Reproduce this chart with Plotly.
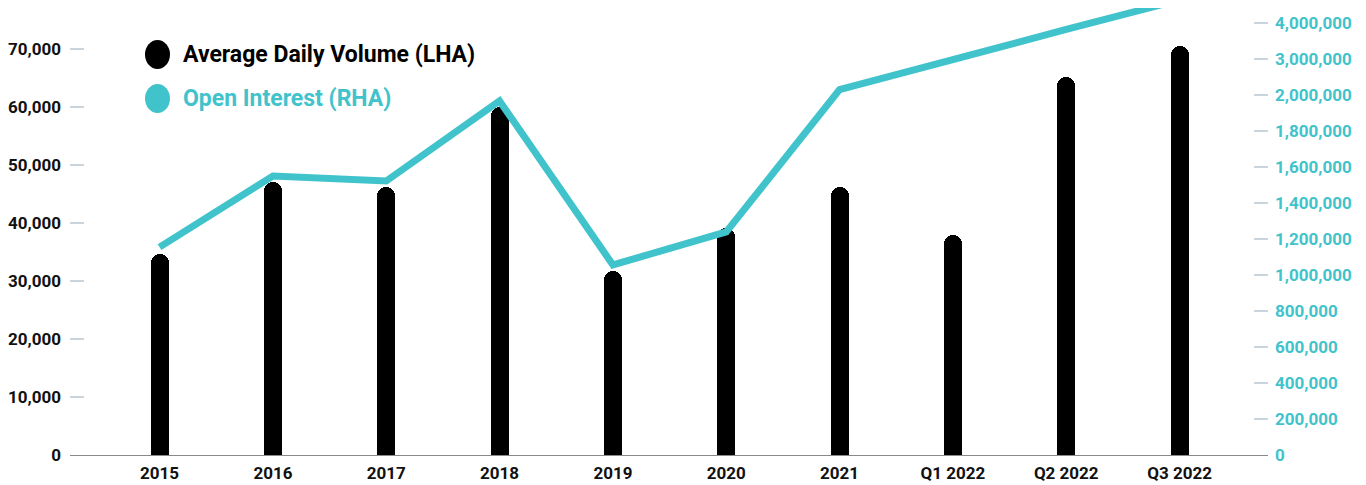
import plotly.graph_objects as go

# ---- data ----
categories = ["2015", "2016", "2017", "2018", "2019", "2020", "2021", "Q1 2022", "Q2 2022", "Q3 2022"]
avg_daily_volume = [34700, 47100, 46200, 60000, 31700, 39100, 46200, 37900, 65200, 70500]
open_interest = [1155000, 1550000, 1522000, 1967000, 1056000, 1239000, 2150000, 3000000, 3820000, 4640000]

left_ticks = [0, 10000, 20000, 30000, 40000, 50000, 60000, 70000]
right_ticks = [0, 200000, 400000, 600000, 800000, 1000000, 1200000, 1400000,
               1600000, 1800000, 2000000, 3000000, 4000000]

BLACK = "#000000"
TEAL = "#41c3cc"
TICKC = "#c9d4dc"
FONT = "Roboto"

# right axis is compressed above 2,000,000 (1,000,000 per step instead of 200,000)
BREAK = 2000000
COMPRESS = 0.2


def oi_pos(v):
    return v if v <= BREAK else BREAK + (v - BREAK) * COMPRESS


W, H = 1366, 485
ML, MR, MT, MB = 62, 106, 0, 38
plot_w = W - ML - MR
plot_h = H - MT - MB
left_max = plot_h / 58.0 * 10000
right_max = plot_h / 36.0 * 200000

fig = go.Figure()

fig.add_trace(go.Bar(
    x=categories, y=avg_daily_volume, name="Average Daily Volume (LHA)",
    marker=dict(color=BLACK, line=dict(width=0), cornerradius=9),
    width=0.159, yaxis="y", showlegend=False,
))

fig.add_trace(go.Scatter(
    x=categories, y=[oi_pos(v) for v in open_interest], name="Open Interest (RHA)",
    mode="lines", line=dict(color=TEAL, width=7), yaxis="y2", showlegend=False,
))

fig.update_layout(
    width=W, height=H,
    margin=dict(l=ML, r=MR, t=MT, b=MB, autoexpand=False),
    plot_bgcolor="white", paper_bgcolor="white",
    font=dict(family=FONT, size=17, color="#111111"),
    xaxis=dict(
        type="category", range=[-0.79, 9.78],
        showgrid=False, zeroline=False,
        showline=True, linecolor="#8a8a8a", linewidth=1.2,
        ticks="", ticklabelstandoff=2,
        tickfont=dict(family=FONT, size=17, color="#111111", weight="bold"),
    ),
    yaxis=dict(
        range=[0, left_max], tickvals=left_ticks,
        ticktext=[f"{v:,}" for v in left_ticks],
        showgrid=False, zeroline=False, showline=False,
        ticks="inside", ticklen=14, tickwidth=2, tickcolor=TICKC,
        ticklabelstandoff=8,
        tickfont=dict(family=FONT, size=17, color="#111111", weight="bold"),
    ),
    yaxis2=dict(
        overlaying="y", side="right",
        range=[0, right_max], tickvals=[oi_pos(v) for v in right_ticks],
        ticktext=[f"{v:,}" for v in right_ticks],
        showgrid=False, zeroline=False, showline=False,
        ticks="inside", ticklen=14, tickwidth=2, tickcolor=TICKC,
        ticklabelstandoff=6,
        tickfont=dict(family=FONT, size=17, color=TEAL, weight="bold"),
    ),
    bargap=0,
)


# custom legend (positions given in page pixels, page is offset 8px by body margin)
def px_x(p):
    return (p - 8 - ML) / plot_w


def px_y(p):
    return (MT + plot_h - (p - 8)) / plot_h


legend_items = [("Average Daily Volume (LHA)", BLACK, 54), ("Open Interest (RHA)", TEAL, 98)]
for label, col, cy in legend_items:
    fig.add_shape(type="circle", xref="paper", yref="paper",
                  x0=px_x(145), x1=px_x(170), y0=px_y(cy + 15), y1=px_y(cy - 14),
                  fillcolor=col, line=dict(width=0))
    fig.add_annotation(xref="paper", yref="paper", x=px_x(181), y=px_y(cy),
                       xanchor="left", yanchor="middle", showarrow=False,
                       text=label, font=dict(family=FONT, size=23, color=col, weight="bold"))

fig.write_html("out.html")
